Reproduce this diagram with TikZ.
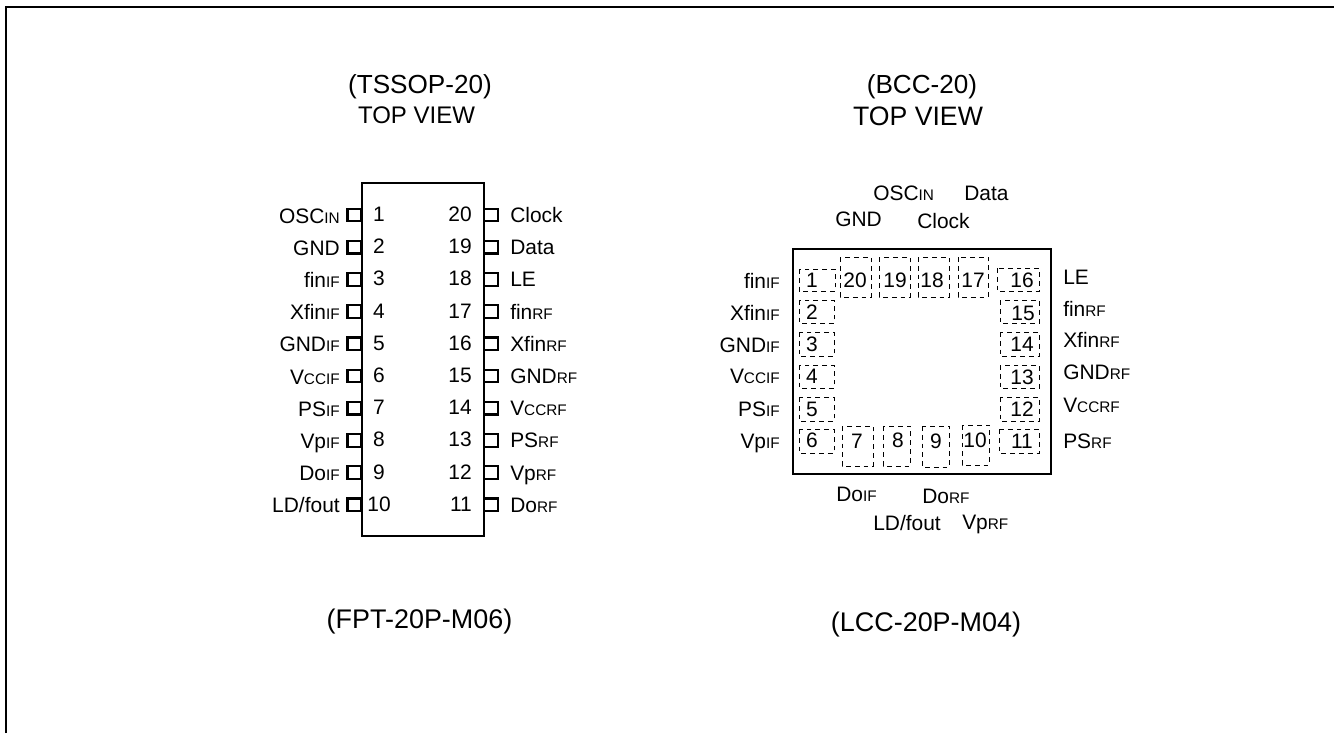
\documentclass[tikz,border=0pt]{standalone}
\usepackage{fontspec}
\setmainfont{Liberation Sans}
\newcommand{\subtxt}[1]{{\fontsize{11.5}{12}\selectfont #1}}

\begin{document}
\begin{tikzpicture}[x=0.75pt,y=-0.75pt,
  body/.style={draw,line width=2.2pt,rectangle,inner sep=0pt,outer sep=0pt},
  pin/.style={draw,line width=1.6pt,rectangle,inner sep=0pt,outer sep=0pt,minimum width=10.5pt,minimum height=9.5pt},
  pad/.style={line width=0.6pt,dash pattern=on 3.6pt off 3pt},
  txt/.style={font=\fontsize{15.7}{18}\selectfont,inner sep=0pt},
  title/.style={font=\fontsize{19.6}{22}\selectfont,inner sep=0pt,anchor=base},
  code/.style={font=\fontsize{20.2}{22}\selectfont,inner sep=0pt,anchor=base}]

  \useasboundingbox (0,0) rectangle (1334,733);

  % frame
  \coordinate (fa) at (6,733);
  \coordinate (fb) at (1334,7);
  \draw[line width=1.5pt] (fa) |- (fb);

  % titles
  \node[title] (t1) at (420,93) {(TSSOP-20)};
  \node[title,font=\fontsize{18}{22}\selectfont] (v1) at (416.5,123) {TOP VIEW};
  \node[title] (t2) at (922,93) {(BCC-20)};
  \node[title,font=\fontsize{20}{22}\selectfont] (v2) at (918,125) {TOP VIEW};
  \node[code] (p1) at (419.5,628) {(FPT-20P-M06)};
  \node[code] (p2) at (926,631) {(LCC-20P-M04)};

  % TSSOP
  \node[body,minimum width=91.5pt,minimum height=264.75pt] (ic) at (423,359.5) {};

  \foreach \n/\lab in {1/OSC\subtxt{IN},2/GND,3/fin\subtxt{IF},4/Xfin\subtxt{IF},5/GND\subtxt{IF},
      6/V\subtxt{CCIF},7/PS\subtxt{IF},8/Vp\subtxt{IF},9/Do\subtxt{IF},10/{LD/fout}}{
    \pgfmathsetmacro\py{215+32.2*(\n-1)}
    \node[pin] (pl\n) at (354.5,\py) {};
    \node[txt,anchor=base east] (ll\n) at (340,\py+8) {\lab};
    \node[txt,anchor=base] (nl\n) at (379,\py+6.5) {\n};
  }

  \foreach \n/\lab in {20/Clock,19/Data,18/LE,17/fin\subtxt{RF},16/Xfin\subtxt{RF},
      15/GND\subtxt{RF},14/V\subtxt{CCRF},13/PS\subtxt{RF},12/Vp\subtxt{RF},11/Do\subtxt{RF}}{
    \pgfmathsetmacro\py{215+32.2*(20-\n)}
    \node[pin] (pr\n) at (491,\py) {};
    \node[txt,anchor=base west] (lr\n) at (510,\py+7.5) {\lab};
    \node[txt,anchor=base east] (nr\n) at (472,\py+6.5) {\n};
  }

  % BCC
  \node[body,minimum width=193.5pt,minimum height=168.75pt] (bcc) at (922,361.5) {};

  \foreach \n/\xa/\ya/\xb/\yb/\nx/\ny in {
      1/799/269/835/291/812/280, 2/799/300/834/323/812/312, 3/799/332/834/356/812/344,
      4/799/365/834/388/812/376, 5/799/397/834/421/812/409, 6/799/429/834/453/812/440,
      7/842/426/873/466/857/441, 8/883/426/910/466/898/440, 9/922/426/949/467/936/441,
      10/962/425/989/465/975/440, 11/999/429/1039/453/1022/441, 12/1000/397/1039/421/1022/409,
      13/1000/365/1039/388/1022/377, 14/1000/332/1039/356/1022/344, 15/1000/300/1039/323/1023/313,
      16/997/268/1039/291/1022/280, 17/958/257/988/297/973/280, 18/918/257/949/297/932/280,
      19/879/257/910/297/895/280, 20/840/257/871/297/855/280}{
    \draw[pad] (\xa,\ya) rectangle (\xb,\yb);
    \node[txt] (b\n) at (\nx,\ny) {\n};
  }

  \foreach \m/\y/\lab in {a/281/fin\subtxt{IF},b/313/Xfin\subtxt{IF},c/345/GND\subtxt{IF},
      d/376/V\subtxt{CCIF},e/409/PS\subtxt{IF},f/441/Vp\subtxt{IF}}{
    \node[txt,anchor=base east] (sl\m) at (780,\y+7.5) {\lab};
  }
  \foreach \m/\y/\lab in {a/277/LE,b/309/fin\subtxt{RF},c/340/Xfin\subtxt{RF},
      d/372/GND\subtxt{RF},e/405/V\subtxt{CCRF},f/441/PS\subtxt{RF}}{
    \node[txt,anchor=base west] (sr\m) at (1063,\y+7.5) {\lab};
  }

  \node[txt,anchor=base west] (osc) at (873,200) {OSC\subtxt{IN}};
  \node[txt,anchor=base west] (data) at (964,200) {Data};
  \node[txt,anchor=base west] (gnd) at (835,226) {GND};
  \node[txt,anchor=base west] (clk) at (917,228) {Clock};
  \node[txt,anchor=base west] (doif) at (836,501) {Do\subtxt{IF}};
  \node[txt,anchor=base west] (dorf) at (922,503) {Do\subtxt{RF}};
  \node[txt,anchor=base west] (ld) at (873,530) {LD/fout};
  \node[txt,anchor=base west] (vprf) at (962,529) {Vp\subtxt{RF}};
\end{tikzpicture}
\end{document}
